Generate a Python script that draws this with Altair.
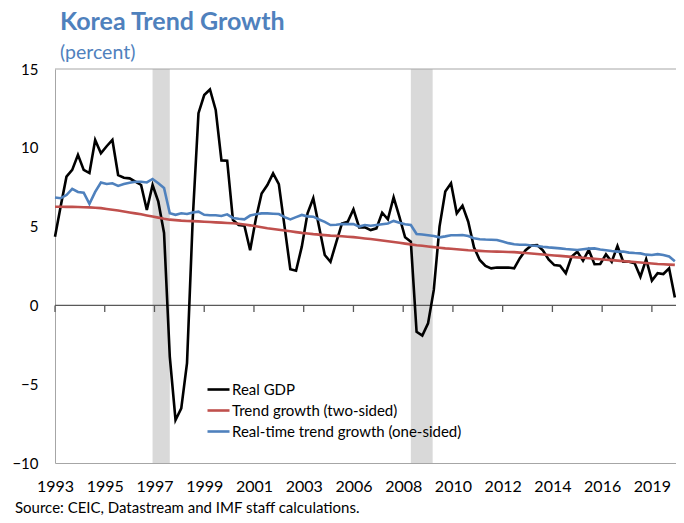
import altair as alt
import pandas as pd

FONT = "Lato"
BLUE = "#4F81BD"

# Quarterly series, 1993Q1 .. 2020Q1 (percent)
real_gdp = [
    4.36, 6.3, 8.17, 8.6, 9.55, 8.6, 8.4, 10.5, 9.65, 10.1,
    10.5, 8.27, 8.1, 8.06, 7.85, 7.64, 6.05, 7.64, 6.58, 4.6,
    -3.25, -7.27, -6.53, -3.67, 5.5, 12.2, 13.35, 13.7, 12.4, 9.2,
    9.18, 5.42, 5.1, 5.06, 3.5, 5.5, 7.1, 7.64, 8.38, 7.7,
    5.0, 2.29, 2.2, 3.73, 5.84, 6.8, 5.0, 3.2, 2.77, 4.0,
    5.2, 5.3, 6.1, 4.95, 4.95, 4.78, 4.89, 5.88, 5.46, 6.86,
    5.63, 4.32, 4.04, -1.67, -1.92, -1.14, 0.98, 5.0, 7.22, 7.75,
    5.84, 6.33, 5.31, 3.69, 2.88, 2.5, 2.35, 2.4, 2.4, 2.4,
    2.35, 3.0, 3.5, 3.8, 3.83, 3.5, 2.92, 2.56, 2.52, 2.04,
    3.09, 3.41, 2.84, 3.52, 2.61, 2.63, 3.24, 2.77, 3.77, 2.77,
    2.77, 2.67, 1.82, 2.92, 1.57, 2.04, 1.99, 2.35, 0.5,
]
trend_two_sided = [
    6.26, 6.26, 6.25, 6.25, 6.24, 6.23, 6.22, 6.2, 6.17, 6.12,
    6.07, 6.02, 5.96, 5.9, 5.84, 5.78, 5.71, 5.64, 5.57, 5.5,
    5.44, 5.41, 5.38, 5.36, 5.35, 5.33, 5.31, 5.29, 5.27, 5.25,
    5.23, 5.21, 5.18, 5.13, 5.08, 5.02, 4.96, 4.9, 4.85, 4.8,
    4.75, 4.7, 4.65, 4.6, 4.56, 4.52, 4.49, 4.46, 4.43, 4.41,
    4.39, 4.36, 4.33, 4.29, 4.25, 4.21, 4.17, 4.12, 4.07, 4.02,
    3.97, 3.92, 3.87, 3.82, 3.78, 3.74, 3.7, 3.66, 3.62, 3.59,
    3.56, 3.53, 3.5, 3.48, 3.46, 3.44, 3.42, 3.41, 3.4, 3.39,
    3.38, 3.35, 3.32, 3.29, 3.26, 3.23, 3.2, 3.17, 3.14, 3.11,
    3.08, 3.05, 3.02, 2.99, 2.96, 2.93, 2.9, 2.87, 2.84, 2.81,
    2.78, 2.75, 2.72, 2.69, 2.66, 2.63, 2.61, 2.59, 2.57,
]
trend_one_sided = [
    6.85, 6.8, 7.0, 7.4, 7.2, 7.15, 6.45, 7.2, 7.8, 7.7,
    7.75, 7.58, 7.7, 7.78, 7.85, 7.85, 7.8, 8.02, 7.75, 7.45,
    5.85, 5.75, 5.85, 5.8, 5.9, 5.95, 5.75, 5.72, 5.72, 5.67,
    5.78, 5.55, 5.5, 5.46, 5.7, 5.78, 5.84, 5.84, 5.82, 5.8,
    5.6, 5.46, 5.6, 5.74, 5.65, 5.63, 5.45, 5.3, 5.1, 5.12,
    5.16, 5.16, 5.16, 5.0, 5.1, 5.05, 5.1, 5.15, 5.2, 5.36,
    5.25, 5.15, 5.1, 4.53, 4.5, 4.45, 4.4, 4.32, 4.38, 4.45,
    4.45, 4.47, 4.4, 4.26, 4.2, 4.18, 4.17, 4.15, 4.05, 3.95,
    3.88, 3.85, 3.85, 3.8, 3.77, 3.72, 3.68, 3.65, 3.62, 3.58,
    3.55, 3.52, 3.56, 3.6, 3.62, 3.55, 3.5, 3.45, 3.41, 3.42,
    3.35, 3.32, 3.3, 3.22, 3.2, 3.25, 3.2, 3.1, 2.8,
]
series_names = ["Real GDP", "Trend growth (two-sided)", "Real-time trend growth (one-sided)"]
series_colors = ["#000000", "#C0504D", BLUE]

recession_start = [1997.25, 2008.5]
recession_end = [1998.0, 2009.45]

tick_positions = [1993.0, 1995.1667, 1997.3333, 1999.5, 2001.6667, 2003.8333, 2006.0,
                  2008.1667, 2010.3333, 2012.5, 2014.6667, 2016.8333, 2019.0]
y_ticks = [-10, -5, 0, 5, 10, 15]

source_text = "Source: CEIC, Datastream and IMF staff calculations."

W, H = 621, 394
START = 1993

rows = []
for name, vals in zip(series_names, [real_gdp, trend_two_sided, trend_one_sided]):
    for i, v in enumerate(vals):
        rows.append({"year": START + i / 4, "value": v, "series": name})
df = pd.DataFrame(rows)

xscale = alt.Scale(domain=[1993, 2020.05], nice=False, zero=False)
yscale = alt.Scale(domain=[-10, 15], nice=False)

shade = alt.Chart(pd.DataFrame({"start": recession_start, "end": recession_end})).mark_rect(
    color="#D9D9D9"
).encode(
    x=alt.X("start:Q", scale=xscale, axis=alt.Axis(
        values=tick_positions, labelExpr="floor(datum.value)", title=None, grid=False,
        ticks=False, tickSize=0, labelPadding=15, domain=True, domainColor="#A6A6A6",
        labelFlush=False, labelOverlap=False,
        labelFontSize=16, labelColor="#000000", labelFont=FONT)),
    x2="end:Q",
    y=alt.value(0),
    y2=alt.value(H),
)

zero_line = alt.Chart(pd.DataFrame({"v": [0]})).mark_rule(color="#595959", strokeWidth=1.3).encode(
    y=alt.Y("v:Q", scale=yscale, axis=alt.Axis(
        values=y_ticks, title=None, grid=False, ticks=False, tickSize=0, labelPadding=17,
        domain=True, domainColor="#A6A6A6", labelFlush=False,
        labelFontSize=15, labelColor="#000000", labelFont=FONT)),
)

top_line = alt.Chart(pd.DataFrame({"v": [15]})).mark_rule(color="#A6A6A6", strokeWidth=1).encode(
    y="v:Q"
)

ticks = alt.Chart(pd.DataFrame({"t": tick_positions})).mark_rule(color="#595959", strokeWidth=1.3).encode(
    x="t:Q",
    y=alt.datum(0),
    y2=alt.datum(-0.42),
)

lines = alt.Chart(df).mark_line(strokeWidth=2.6).encode(
    x="year:Q",
    y="value:Q",
    color=alt.Color("series:N", scale=alt.Scale(domain=series_names, range=series_colors),
                    sort=series_names,
                    legend=alt.Legend(orient="none", legendX=151, legendY=308, title=None,
                                      symbolType="stroke", symbolSize=484, symbolStrokeWidth=2.6,
                                      labelFontSize=15, labelFont=FONT, labelColor="#000000",
                                      labelLimit=0, rowPadding=0, padding=0, labelOffset=1)),
)

source = alt.Chart(pd.DataFrame({"text": [source_text]})).mark_text(
    align="left", baseline="alphabetic", font=FONT, fontSize=15, color="#000000"
).encode(
    text="text:N",
    x=alt.value(-40),
    y=alt.value(H + 50),
)

chart = alt.layer(shade, zero_line, top_line, ticks, lines, source).properties(
    width=W,
    height=H,
    title=alt.Title("Korea Trend Growth", subtitle="(percent)", anchor="start", frame="group", dx=5,
                    font=FONT, fontSize=25, fontWeight="bold", color=BLUE,
                    subtitleFont=FONT, subtitleFontSize=19.5, subtitleColor=BLUE,
                    subtitlePadding=9, offset=0),
    autosize=alt.AutoSizeParams(type="none"),
    padding={"left": 47, "top": 61, "right": 0, "bottom": 52},
).configure_view(stroke=None)

chart.save("out.html", embed_options={"renderer": "svg", "actions": False})
